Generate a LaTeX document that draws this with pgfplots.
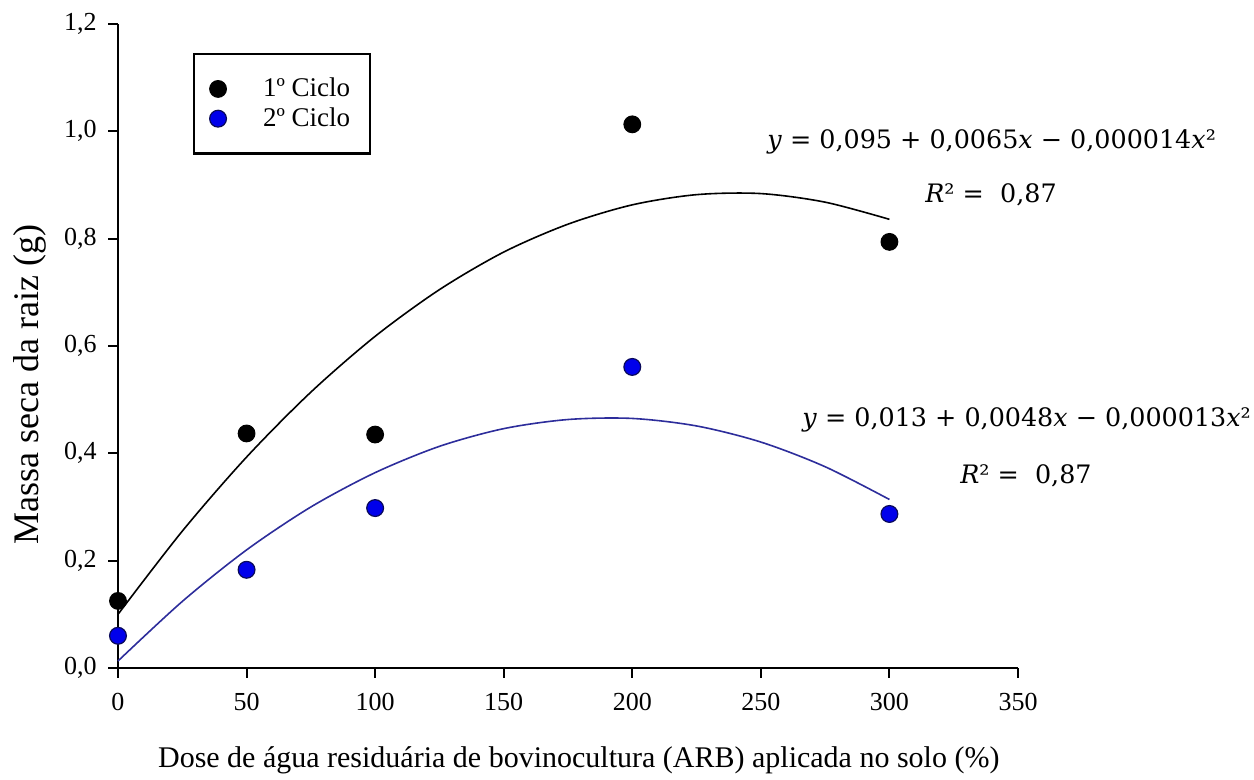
\documentclass[border=0pt]{standalone}
\usepackage{pgfplots}
\pgfplotsset{compat=1.18}
\usepackage{fontspec}
\setmainfont{Liberation Serif}
\newfontfamily\eqfont{DejaVu Serif}
\definecolor{markblue}{RGB}{0,0,235}
\definecolor{edgeblue}{RGB}{10,10,90}
\definecolor{lineblue}{RGB}{45,45,155}
\newcommand{\eqx}{\textit{x}}
\newcommand{\eqy}{\textit{y}}
\begin{document}
\begin{tikzpicture}
\useasboundingbox (-59pt,-56pt) rectangle (568pt,334pt);
\begin{axis}[
  at={(0pt,0pt)}, anchor=origin,
  scale only axis, width=450pt, height=322pt,
  xmin=0, xmax=350, ymin=0, ymax=1.2,
  axis x line*=bottom, axis y line*=left,
  axis line style={line width=1.1pt, -},
  xtick={0,50,...,350}, ytick={0,0.2,...,1.2},
  tick align=outside, major tick length=4.8pt,
  tick style={line width=1pt, black},
  yticklabel={\pgfmathprintnumber[fixed,fixed zerofill,precision=1,use comma]{\tick}},
  xticklabel style={font=\fontsize{13}{15}\selectfont, yshift=-4.5pt},
  yticklabel style={font=\fontsize{13}{15}\selectfont, xshift=-2.3pt},
  /pgf/number format/assume math mode=true,
  xlabel={Dose de água residuária de bovinocultura (ARB) aplicada no solo (\%)},
  ylabel={Massa seca da raiz (g)},
  xlabel style={font=\fontsize{15}{18}\selectfont, at={(axis description cs:0.512,-0.143)}, anchor=center},
  ylabel style={font=\fontsize{18}{20}\selectfont, at={(axis description cs:-0.0978,0.44)}, anchor=center},
  clip=false,
  legend style={at={(0.0833,0.955)}, anchor=north west, draw=black, line width=1.1pt,
    font=\fontsize{13.5}{15}\selectfont, inner xsep=7.8pt, inner ysep=10pt, row sep=0pt},
  legend cell align=left,
  legend image code/.code={\path[draw=none,fill=none] (0pt,0pt) (20.5pt,0pt); \draw[#1] plot coordinates {(0pt,0pt)};},
]
% fitted curves
\addplot[black, line width=0.8pt, smooth, forget plot] coordinates {
(0,0.100) (25,0.255) (50,0.393) (75,0.514) (100,0.618) (125,0.705) (150,0.775)
(175,0.827) (200,0.863) (225,0.882) (250,0.884) (275,0.868) (300,0.836)};
\addplot[lineblue, line width=0.8pt, smooth, forget plot] coordinates {
(0,0.013) (25,0.124) (50,0.220) (75,0.300) (100,0.364) (125,0.413) (150,0.446)
(175,0.463) (200,0.465) (225,0.451) (250,0.421) (275,0.375) (300,0.314)};
% observed points
\addplot[only marks, mark=*, mark size=4.2pt, mark options={fill=black, draw=black, line width=0.5pt}] coordinates {
(0,0.125) (50,0.437) (100,0.435) (200,1.013) (300,0.794)};
\addlegendentry{1º Ciclo}
\addplot[only marks, mark=*, mark size=4.2pt, mark options={fill=markblue, draw=edgeblue, line width=0.6pt}] coordinates {
(0,0.060) (50,0.183) (100,0.298) (200,0.561) (300,0.287)};
\addlegendentry{2º Ciclo}
% equations
\node[anchor=west, inner sep=0pt, font=\eqfont\fontsize{12.7}{15}\selectfont] at (axis cs:252.4,0.980) {\eqy\ = 0,095 + 0,0065\eqx\ − 0,000014\eqx²};
\node[anchor=west, inner sep=0pt, font=\eqfont\fontsize{12.7}{15}\selectfont] at (axis cs:313.8,0.881) {\textit{R}² =\ \ 0,87};
\node[anchor=west, inner sep=0pt, font=\eqfont\fontsize{12.7}{15}\selectfont] at (axis cs:266.0,0.462) {\eqy\ = 0,013 + 0,0048\eqx\ − 0,000013\eqx²};
\node[anchor=west, inner sep=0pt, font=\eqfont\fontsize{12.7}{15}\selectfont] at (axis cs:327.4,0.358) {\textit{R}² =\ \ 0,87};
\end{axis}
\end{tikzpicture}
\end{document}
